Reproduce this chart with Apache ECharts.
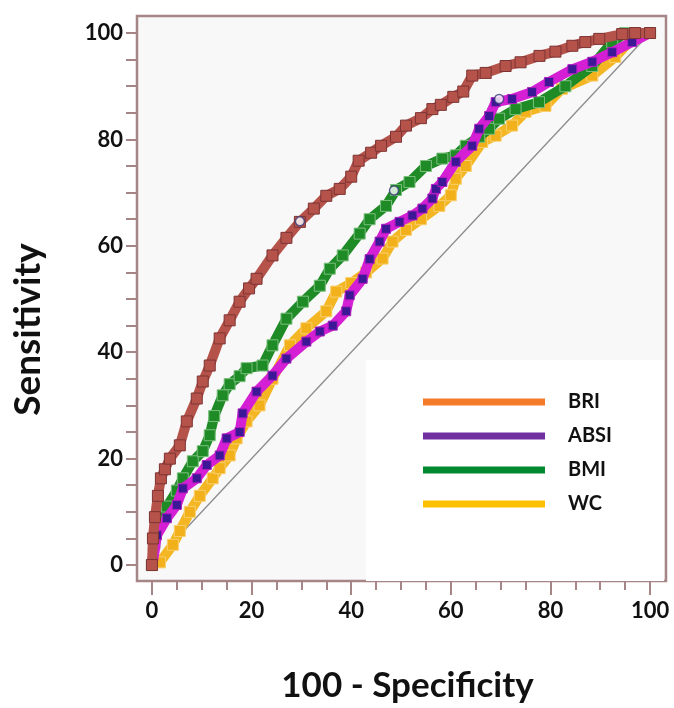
<!DOCTYPE html>
<html>
<head>
<meta charset="utf-8">
<script src="https://cdn.jsdelivr.net/npm/echarts@6/dist/echarts.min.js"></script>
<style>html,body{margin:0;padding:0;background:#fff}#c{width:674px;height:708px}</style>
</head>
<body>
<div id="c"></div>
<script>
// ---- data ----
const seriesNames = ['BRI', 'ABSI', 'BMI', 'WC'];
const xTickLabels = [0, 20, 40, 60, 80, 100];
const yTickLabels = [0, 20, 40, 60, 80, 100];
const minorTicks = [0,5,10,15,20,25,30,35,40,45,50,55,60,65,70,75,80,85,90,95,100];
const diagonal = [[0,0],[100,100]];
const bri = [[0,0],[0.2,5],[0.6,9],[1.2,13],[1.8,16.3],[2.6,18],[3.6,20],[5.6,22.5],[7,27],[9,31.3],[10.2,34.5],[11.6,37.5],[13.6,42.6],[15.6,46],[17.6,49.5],[19.5,52],[21,53.8],[24.2,58.2],[27,61.5],[29.7,64.5],[32.5,67],[35,69.4],[37.7,70.7],[40,73],[41.5,76],[44,77.5],[46,78.8],[49,80.5],[51,82.6],[54,84],[56.3,85.7],[58,86.5],[60.5,88],[62.5,89],[64.3,92],[67,92.5],[71,93.8],[74,94.5],[77.8,95.7],[81,96.5],[84.4,97.6],[87,98.3],[89.8,98.9],[94.4,99.8],[97,100],[100,100]];
const absi = [[0,0],[0.2,0.5],[1,5.6],[3,8.8],[5,11.3],[6.2,14.4],[9,16.3],[11,18.8],[13.6,20.6],[15,23.8],[17.6,25],[18.2,28.5],[21,32.6],[24.2,35.6],[27,38.8],[31,42],[33.7,43.9],[36.3,45],[39,47.7],[39.7,50.7],[42.3,53.8],[43.7,57.5],[45.7,60.8],[47,63.2],[49.7,64.5],[52.3,65.7],[54.3,67],[56.3,68.9],[57,70.7],[58.3,72],[61,75.8],[64.3,78.8],[65.7,82],[67.7,84.4],[69,87],[72.3,87.6],[76.3,88.9],[79.7,90.8],[84.4,93.2],[88.4,94.6],[92.4,96.4],[96.4,98.3],[100,100]];
const bmi = [[0,0],[0.5,4],[1.5,8],[3,11],[5,14],[6.2,16.3],[8.2,19.5],[10.2,21.4],[11.6,24.4],[12.5,28],[14.2,31.9],[15.6,34],[17.6,35.5],[19,37],[22.2,37.5],[24.2,41.3],[27,46.3],[30.3,49.5],[33.7,52.5],[35.7,55.7],[38.3,58.2],[41.7,62.3],[43.7,65],[47,67.5],[49,70.5],[51.7,72],[55,75],[58.3,76.4],[61,77],[63,78.8],[65.7,80.5],[67.7,82],[69.7,83.9],[73,85.7],[77.7,87],[83,90],[88.4,93.8],[92.4,98.3],[95,100],[100,100]];
const wc = [[0,0],[1.6,0.5],[4.2,3.8],[5.6,6.4],[7.6,10],[9.6,13],[12.2,16.3],[13.6,18.2],[15.6,20.6],[17,23.8],[19,27],[21.6,30],[24.2,35],[27.7,41.3],[31,44.5],[35,47.7],[37,51.4],[40,53],[43,55],[46.3,57.6],[48.3,60.8],[51,63],[54,65],[57.7,67.5],[60,69.5],[61,72.6],[63,75],[66.3,79.5],[69,80.7],[72.3,82.6],[75,85.2],[79,86.3],[82.3,89.5],[88.4,92],[93,95.5],[96.4,98.9],[100,100]];
const cutoffPoints = [[29.7,64.6],[48.6,70.4],[69.7,87.6]];

// ---- styles ----
const legendColors = {BRI:'#f47b2a', ABSI:'#7030a0', BMI:'#00892f', WC:'#ffc000'};
const frameColor = '#a58585';
const font = 'Lato, "Open Sans", sans-serif';

const chart = echarts.init(document.getElementById('c'), null, {renderer:'canvas'});

function curve(name, data, lineColor, symColor, symBorder, symSize, z) {
  return {
    name, type:'line', data, z,
    showSymbol:true, showAllSymbol:true, symbol:'rect', symbolSize:symSize,
    lineStyle:{color:lineColor, width:10, join:'miter'},
    itemStyle:{color:symColor, borderColor:symBorder, borderWidth:1},
    emphasis:{disabled:true}, animation:false
  };
}

chart.setOption({
  animation:false,
  backgroundColor:'#ffffff',
  grid:{left:137, right:8, top:16, bottom:125, show:true, backgroundColor:'#f8f8f8', borderColor:frameColor, borderWidth:2.5},
  graphic:[{type:'rect', left:366, top:360, shape:{width:298, height:221}, style:{fill:'#ffffff'}, z:1}],
  xAxis:[{
    type:'value', min:-3, max:103.2, position:'bottom',
    splitLine:{show:false}, axisLine:{show:false, onZero:false},
    axisTick:{show:true, length:14, inside:false, customValues:xTickLabels, lineStyle:{color:frameColor, width:2}},
    axisLabel:{customValues:xTickLabels, margin:19, fontSize:22, fontWeight:'bold', color:'#111', fontFamily:font},
    name:'100 - Specificity', nameLocation:'middle', nameGap:87,
    nameTextStyle:{fontSize:35, fontWeight:'bold', color:'#111', fontFamily:font, padding:[0,0,0,12]}
  },{
    type:'value', min:-3, max:103.2, position:'bottom', gridIndex:0,
    splitLine:{show:false}, axisLine:{show:false, onZero:false},
    axisTick:{show:true, length:9, customValues:minorTicks, lineStyle:{color:frameColor, width:2}},
    axisLabel:{show:false}
  }],
  yAxis:[{
    type:'value', min:-3, max:103.2, position:'left',
    splitLine:{show:false}, axisLine:{show:false, onZero:false},
    axisTick:{show:true, length:11, customValues:minorTicks, lineStyle:{color:frameColor, width:2}},
    axisLabel:{customValues:yTickLabels, margin:14, fontSize:22, fontWeight:'bold', color:'#111', fontFamily:font},
    name:'Sensitivity', nameLocation:'middle', nameGap:90,
    nameTextStyle:{fontSize:37, fontWeight:'bold', color:'#111', fontFamily:font, padding:[0,62,0,0]}
  }],
  legend:{
    orient:'vertical', left:418, top:385, itemWidth:122, itemHeight:7, itemGap:10,
    selectedMode:false,
    textStyle:{fontSize:20, fontWeight:'bold', color:'#111', fontFamily:font, lineHeight:24, padding:[0,0,0,18]},
    data:seriesNames.map(n => ({name:n, icon:'rect', itemStyle:{color:legendColors[n], borderWidth:0}}))
  },
  series:[
    {name:'diag', type:'line', data:diagonal, symbol:'none', z:2, lineStyle:{color:'#8c8c8c', width:1.3}, emphasis:{disabled:true}},
    curve('WC', wc, '#f4b622', '#f2b01a', '#f8d070', 11, 3),
    curve('BMI', bmi, '#1f8b27', '#1f8b27', '#7cc07e', 11, 4),
    curve('ABSI', absi, '#d41fd4', '#3c1796', '#b21cc0', 9, 5),
    curve('BRI', bri, '#b5534b', '#b5534b', '#7d3434', 11, 6),
    {name:'cutoff', type:'scatter', data:cutoffPoints, symbol:'circle', symbolSize:9, z:7,
     itemStyle:{color:'#ffffff', borderColor:'#3a3a7a', borderWidth:1.5}, emphasis:{disabled:true}}
  ]
});
</script>
</body>
</html>
